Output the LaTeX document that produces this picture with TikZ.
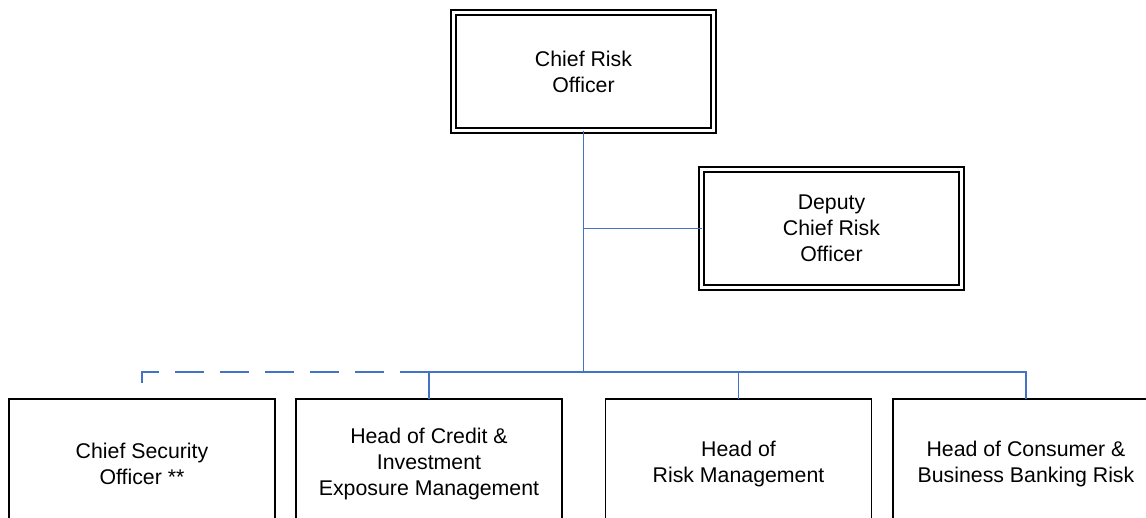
\documentclass[tikz,border=0pt]{standalone}
\usepackage{fontspec}
\setmainfont{Liberation Sans}
\usetikzlibrary{positioning}

\begin{document}
\begin{tikzpicture}[x=1pt, y=-1pt,
                    officebox/.style={rectangle, draw=black, line width=1.8pt, minimum width=266pt, minimum height=130pt,
                                      inner sep=0pt, outer sep=0pt, align=center, font=\fontsize{21.3}{26}\selectfont},
                    dblbox/.style={officebox, double, line width=1.8pt, double distance=2.8pt, minimum width=260pt, minimum height=118pt},
                    orgline/.style={draw={rgb,255:red,68;green,114;blue,196}, line width=1.8pt}]
                    \useasboundingbox (0,0) rectangle (1146,517);
                    \node[dblbox] (cro) at (583.5,71.5) {Chief Risk\\Officer};
                    \node[dblbox] (deputy) at (831.5,228.5) {Deputy\\Chief Risk\\Officer};
                    \node[officebox] (cso) at (142,464) {Chief Security\\Officer **};
                    \node[officebox] (credit) at (429,464) {Head of Credit \&\\Investment\\Exposure Management};
                    \node[officebox] (riskmgmt) at (738.5,464) {Head of\\Risk Management};
                    \node[officebox] (consumer) at (1026,464) {Head of Consumer \&\\Business Banking Risk};
                    \coordinate (bus) at (583.5,372);

                    \draw[orgline] (cro.south) -- (bus);
                    \draw[orgline] (cro.south |- deputy.west) -- (deputy.west);
                    \draw[orgline] (credit.north) -- (credit.north |- bus) -| (consumer.north);
                    \draw[orgline] (riskmgmt.north |- bus) -- (riskmgmt.north);
                    % dotted-line report
                    \draw[orgline, dash pattern=on 29pt off 16pt] (credit.north |- bus) -| ([yshift=16pt]cso.north);
                    \end{tikzpicture}
\end{document}
